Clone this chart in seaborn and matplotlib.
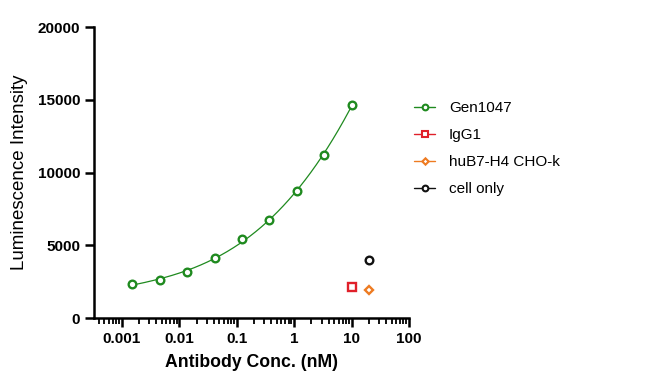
import numpy as np
import pandas as pd
import matplotlib
matplotlib.use("Agg")
import matplotlib.pyplot as plt
from matplotlib.lines import Line2D
from matplotlib.ticker import LogLocator, NullFormatter
import seaborn as sns

# values
gen_conc = [0.00152, 0.00457, 0.0137, 0.0412, 0.123, 0.370, 1.11, 3.33, 10.0]
gen_lum = [2330, 2640, 3160, 4120, 5420, 6720, 8760, 11190, 14650]

igg_conc = [10.0]
igg_lum = [2130]

hub_conc = [20.0]
hub_lum = [1960]

cell_conc = [20.0]
cell_lum = [3980]

series_names = ["Gen1047", "IgG1", "huB7-H4 CHO-k", "cell only"]
series_colors = ["#1f8a1f", "#e0202a", "#ee7b22", "#111111"]
series_markers = ["o", "s", "D", "o"]

y_ticks = [0, 5000, 10000, 15000, 20000]
x_ticks = [0.001, 0.01, 0.1, 1, 10, 100]
x_tick_labels = ["0.001", "0.01", "0.1", "1", "10", "100"]

sns.set_style("ticks", {"axes.edgecolor": "black", "text.color": "black",
                        "axes.labelcolor": "black", "xtick.color": "black",
                        "ytick.color": "black"})
plt.rcParams["font.family"] = ["Liberation Sans", "DejaVu Sans"]

fig = plt.figure(figsize=(6.58, 3.81), dpi=100)
ax = fig.add_axes([0.143, 0.165, 0.4786, 0.764])

# smooth fitted curve for Gen1047 (cubic fit in log10 concentration)
coef = np.polyfit(np.log10(gen_conc), gen_lum, 3)
grid = np.logspace(np.log10(gen_conc[0]), np.log10(gen_conc[-1]), 200)
fit = pd.DataFrame({"conc": grid, "lum": np.polyval(coef, np.log10(grid))})
sns.lineplot(data=fit, x="conc", y="lum", color=series_colors[0], lw=0.9, ax=ax)

point_sets = [(gen_conc, gen_lum), (igg_conc, igg_lum), (hub_conc, hub_lum), (cell_conc, cell_lum)]
sizes = [5.5, 5.2, 4.3, 5.5]
for (xs, ys), col, mk, ms in zip(point_sets, series_colors, series_markers, sizes):
    ax.plot(xs, ys, linestyle="none", marker=mk, ms=ms, mfc="white",
            mec=col, mew=1.7, zorder=3)

ax.set_xscale("log")
ax.set_xlim(0.00033, 100)
ax.set_ylim(0, 20000)
ax.set_xticks(x_ticks)
ax.set_xticklabels(x_tick_labels)
ax.xaxis.set_minor_locator(LogLocator(base=10, subs=np.arange(2, 10), numticks=20))
ax.xaxis.set_minor_formatter(NullFormatter())
ax.set_yticks(y_ticks)
ax.set_yticklabels([str(v) for v in y_ticks])

for side in ["left", "bottom"]:
    ax.spines[side].set_linewidth(1.8)
sns.despine(ax=ax)
ax.tick_params(axis="both", which="major", width=1.8, length=6.5, labelsize=11)
ax.tick_params(axis="x", which="minor", width=1.3, length=4)
for lbl in ax.get_xticklabels() + ax.get_yticklabels():
    lbl.set_fontweight("bold")

ax.set_xlabel("Antibody Conc. (nM)", fontsize=12.7, fontweight="bold", labelpad=6)
ax.set_ylabel("Luminescence Intensity", fontsize=13.5, labelpad=7)

handles = [Line2D([0], [0], color=c, lw=1.0, marker=m, ms=s * 0.75, mfc="white", mec=c, mew=1.5)
           for c, m, s in zip(series_colors, series_markers, sizes)]
fig.legend(handles, series_names, loc="upper left", bbox_to_anchor=(0.608, 0.77),
           frameon=False, fontsize=11, handlelength=1.4, handletextpad=0.9,
           labelspacing=0.85)

fig.savefig("out.png", dpi=100)
